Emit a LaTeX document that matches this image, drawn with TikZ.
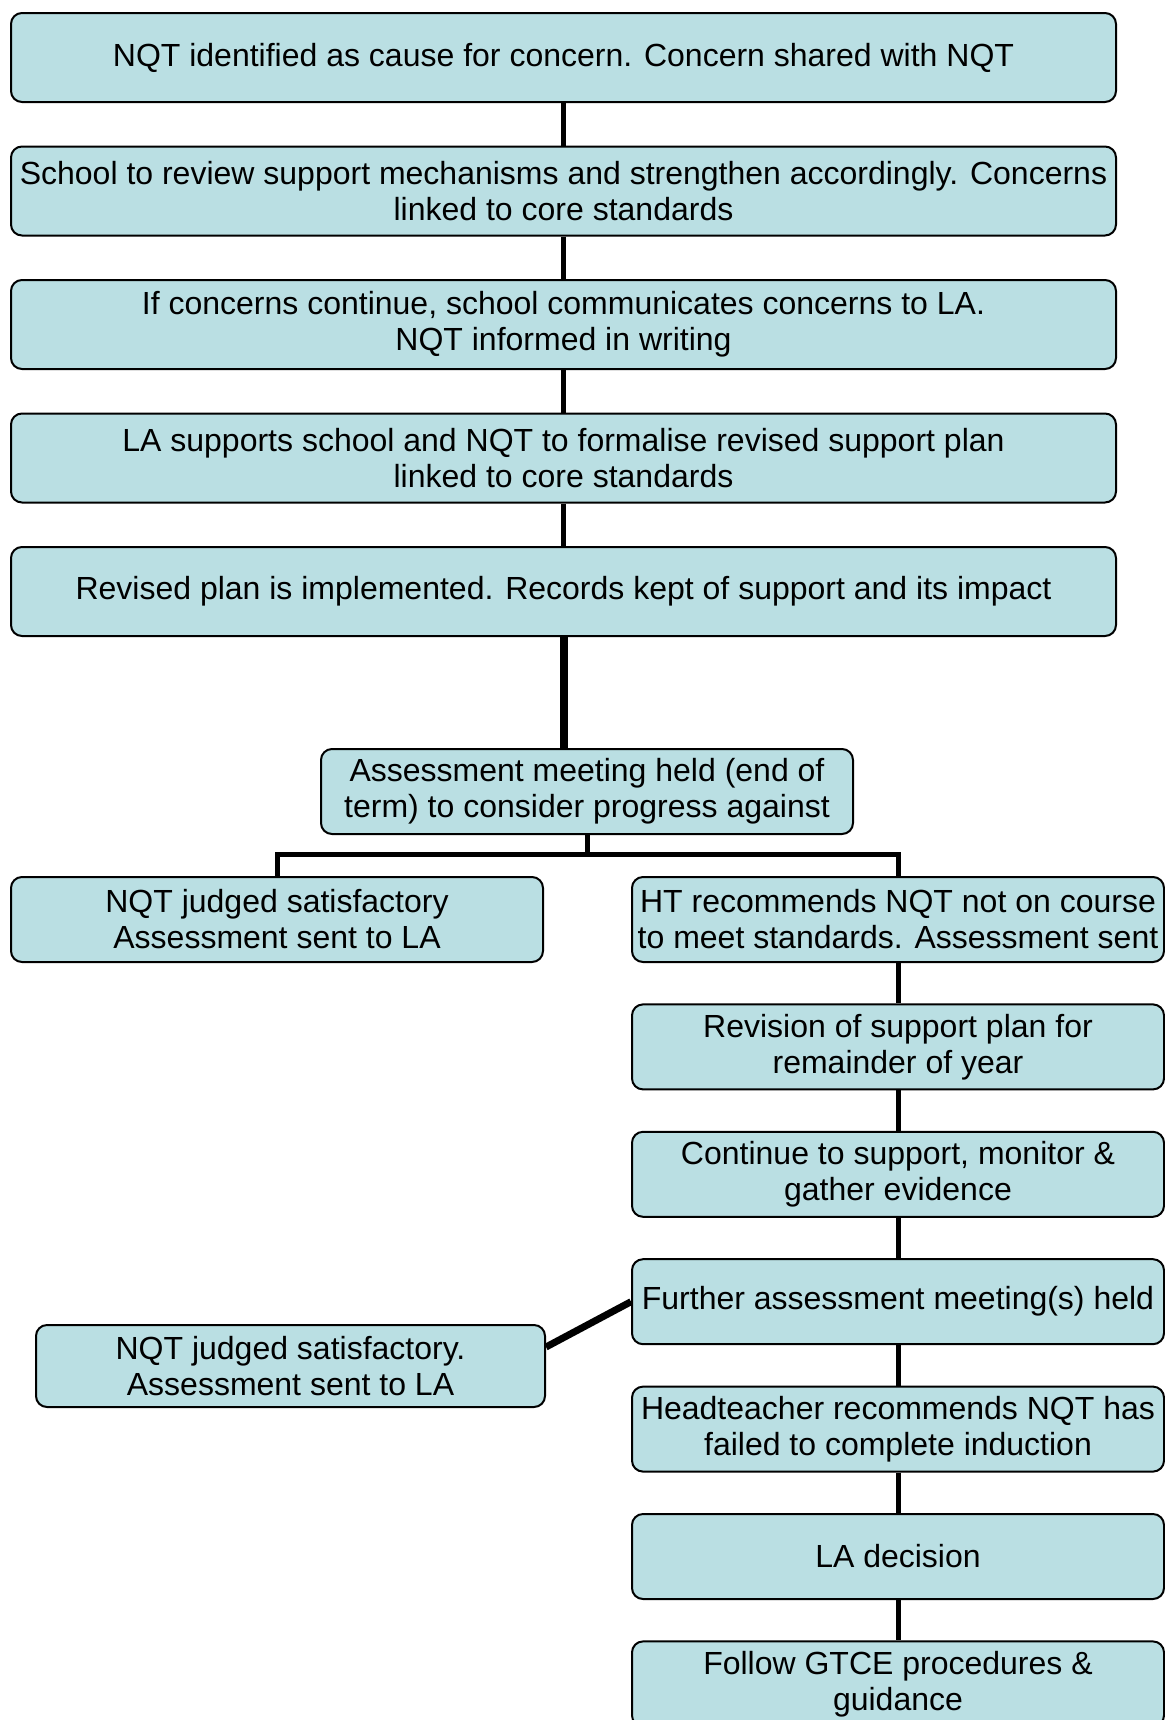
\documentclass[tikz,border=0pt]{standalone}
\usepackage{fontspec}
\setmainfont{Liberation Sans}
\usetikzlibrary{positioning}
\definecolor{boxblue}{RGB}{186,223,227}

\begin{document}
\begin{tikzpicture}[
    node distance=21.25pt,
    box/.style={draw, line width=1pt, rounded corners=5.5pt, fill=boxblue, align=center,
        inner xsep=2pt, font=\fontsize{16}{18}\selectfont},
    wide/.style={box, minimum width=552.5pt, minimum height=44.5pt},
    half/.style={box, minimum width=266pt, minimum height=42.5pt},
    link/.style={line width=2.5pt},
    heavy/.style={line width=4pt},
]
\useasboundingbox (0,0) rectangle (582.5pt,-860pt);

% First stage: school support
\node[wide] (concern) at (281.75pt,-28.75pt) {NQT identified as cause for concern. Concern shared with NQT};
\node[wide, below=of concern] (review) {School to review support mechanisms and strengthen accordingly. Concerns\\linked to core standards};
\node[wide, below=of review] (inform) {If concerns continue, school communicates concerns to LA.\\NQT informed in writing};
\node[wide, below=of inform] (plan) {LA supports school and NQT to formalise revised support plan\\linked to core standards};
\node[wide, below=of plan] (record) {Revised plan is implemented. Records kept of support and its impact};

\foreach \a/\b in {concern/review, review/inform, inform/plan, plan/record}
    \draw[link] (\a) -- (\b);

% Assessment and the split
\node[half, below=55.5pt of record, xshift=11.75pt] (assess) {Assessment meeting held (end of\\term) to consider progress against};
\draw[heavy] (record.south) -- (record.south |- assess.north);

\coordinate[below=9.5pt of assess.south] (split);
\node[half, anchor=north] (sat) at (138.5pt,-438pt) {NQT judged satisfactory\\Assessment sent to LA};
\node[half, anchor=north] (notcourse) at (449pt,-438pt) {HT recommends NQT not on course\\to meet standards. Assessment sent};

\draw[link] (assess.south) -- (split);
\draw[link] (sat.north) |- (split) -| (notcourse.north);

% Right column: not on course
\node[half, below=20.2pt of notcourse] (revise) {Revision of support plan for\\remainder of year};
\node[half, below=20.2pt of revise] (monitor) {Continue to support, monitor \&\\gather evidence};
\node[half, below=20.2pt of monitor] (further) {Further assessment meeting(s) held};
\node[half, below=20.2pt of further] (fail) {Headteacher recommends NQT has\\failed to complete induction};
\node[half, below=20.2pt of fail] (decide) {LA decision};
\node[half, below=20.2pt of decide] (gtce) {Follow GTCE procedures \&\\guidance};

\foreach \a/\b in {notcourse/revise, revise/monitor, monitor/further, further/fail, fail/decide, decide/gtce}
    \draw[link] (\a) -- (\b);

% Late satisfactory outcome
\node[box, minimum width=254.5pt, minimum height=41pt] (sat2) at (145.25pt,-683pt) {NQT judged satisfactory.\\Assessment sent to LA};
\draw[line width=3.5pt] ([yshift=9.5pt]sat2.east) -- (further.west);

\end{tikzpicture}
\end{document}
